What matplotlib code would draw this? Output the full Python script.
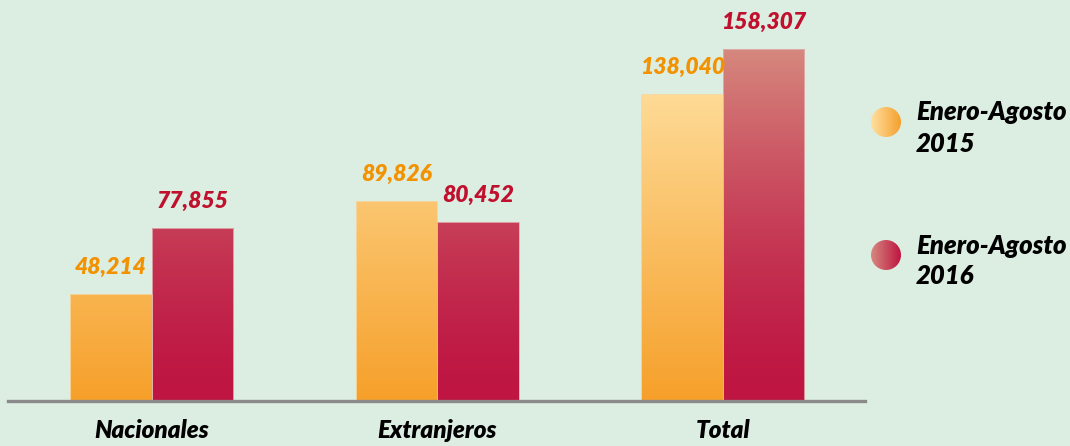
import numpy as np
import matplotlib.pyplot as plt
from matplotlib.patches import Circle
from matplotlib.colors import to_rgb

# datos
categorias = ['Nacionales', 'Extranjeros', 'Total']
valores_2015 = [48214, 89826, 138040]
valores_2016 = [77855, 80452, 158307]
series = ['Enero-Agosto\n2015', 'Enero-Agosto\n2016']

bg = '#dcede1'
plt.rcParams['font.family'] = ['Lato', 'DejaVu Sans']
peso = 'heavy'

fig = plt.figure(figsize=(10.7, 4.46), dpi=100, facecolor=bg)
ax = fig.add_axes([8 / 1070, 45 / 446, 857 / 1070, 401 / 446])
ax.set_facecolor(bg)

ancho = 0.285
x = np.arange(len(categorias))
ytop = max(valores_2016)


def gradiente(c_bajo, c_alto, gamma, n=256):
    f = np.linspace(0, 1, n) ** gamma
    a = np.array(to_rgb(c_bajo))
    b = np.array(to_rgb(c_alto))
    col = a[None, :] * (1 - f[:, None]) + b[None, :] * f[:, None]
    return col[:, None, :]


grad_nar = gradiente('#f6a02a', '#ffe3a6', 1.0)
grad_roj = gradiente('#be1542', '#d6897e', 1.5)

barras1 = ax.bar(x - ancho / 2, valores_2015, ancho, facecolor='none',
                 edgecolor='#f5d9a8', linewidth=0.6, zorder=3)
barras2 = ax.bar(x + ancho / 2, valores_2016, ancho, facecolor='none',
                 edgecolor='#e0b0b0', linewidth=0.6, zorder=3)

for barras, grad in [(barras1, grad_nar), (barras2, grad_roj)]:
    for b in barras:
        x0 = b.get_x()
        im = ax.imshow(grad, extent=(x0, x0 + b.get_width(), 0, ytop),
                       origin='lower', aspect='auto', zorder=2)
        im.set_clip_path(b)

for xi, v in zip(x, valores_2015):
    ax.annotate(f'{v:,}', (xi - ancho / 2, v), xytext=(0, 19), textcoords='offset points',
                ha='center', va='center', fontsize=16.5, fontweight=peso,
                fontstyle='italic', color='#f39200')
for xi, v in zip(x, valores_2016):
    ax.annotate(f'{v:,}', (xi + ancho / 2, v), xytext=(0, 19), textcoords='offset points',
                ha='center', va='center', fontsize=16.5, fontweight=peso,
                fontstyle='italic', color='#c0102e')

ax.set_xlim(-0.5035, 2.498)
ax.set_ylim(0, 180300)
for s in ['top', 'right', 'left']:
    ax.spines[s].set_visible(False)
ax.spines['bottom'].set_color('#8a8a8a')
ax.spines['bottom'].set_linewidth(2.4)
ax.spines['bottom'].set_zorder(4)
ax.set_yticks([])
ax.set_xticks(x)
ax.set_xticklabels(categorias, fontsize=17.5, fontweight=peso, fontstyle='italic')
ax.tick_params(axis='x', length=0, pad=13)

# leyenda con circulos degradados
lx = fig.add_axes([0, 0, 1, 1])
lx.set_xlim(0, 1070)
lx.set_ylim(0, 446)
lx.axis('off')
lx.patch.set_alpha(0)
for i, (etq, c1, c2) in enumerate([(series[0], '#ffe0a0', '#f5a02c'),
                                   (series[1], '#d6897e', '#be1542')]):
    cy = 446 - (122 + i * 133)
    cx = 886
    r = 15
    f = np.linspace(0, 1, 64)
    g = np.array(to_rgb(c1))[None, :] * (1 - f[:, None]) + np.array(to_rgb(c2))[None, :] * f[:, None]
    im = lx.imshow(g[None, :, :], extent=(cx - r, cx + r, cy - r, cy + r), aspect='auto')
    circ = Circle((cx, cy), r, transform=lx.transData, facecolor='none', edgecolor='none')
    lx.add_patch(circ)
    im.set_clip_path(circ)
    lx.text(916, cy - 6, etq, ha='left', va='center', fontsize=18.5, fontweight=peso,
            fontstyle='italic', linespacing=1.35)

fig.savefig('out.png', dpi=100, facecolor=bg)
